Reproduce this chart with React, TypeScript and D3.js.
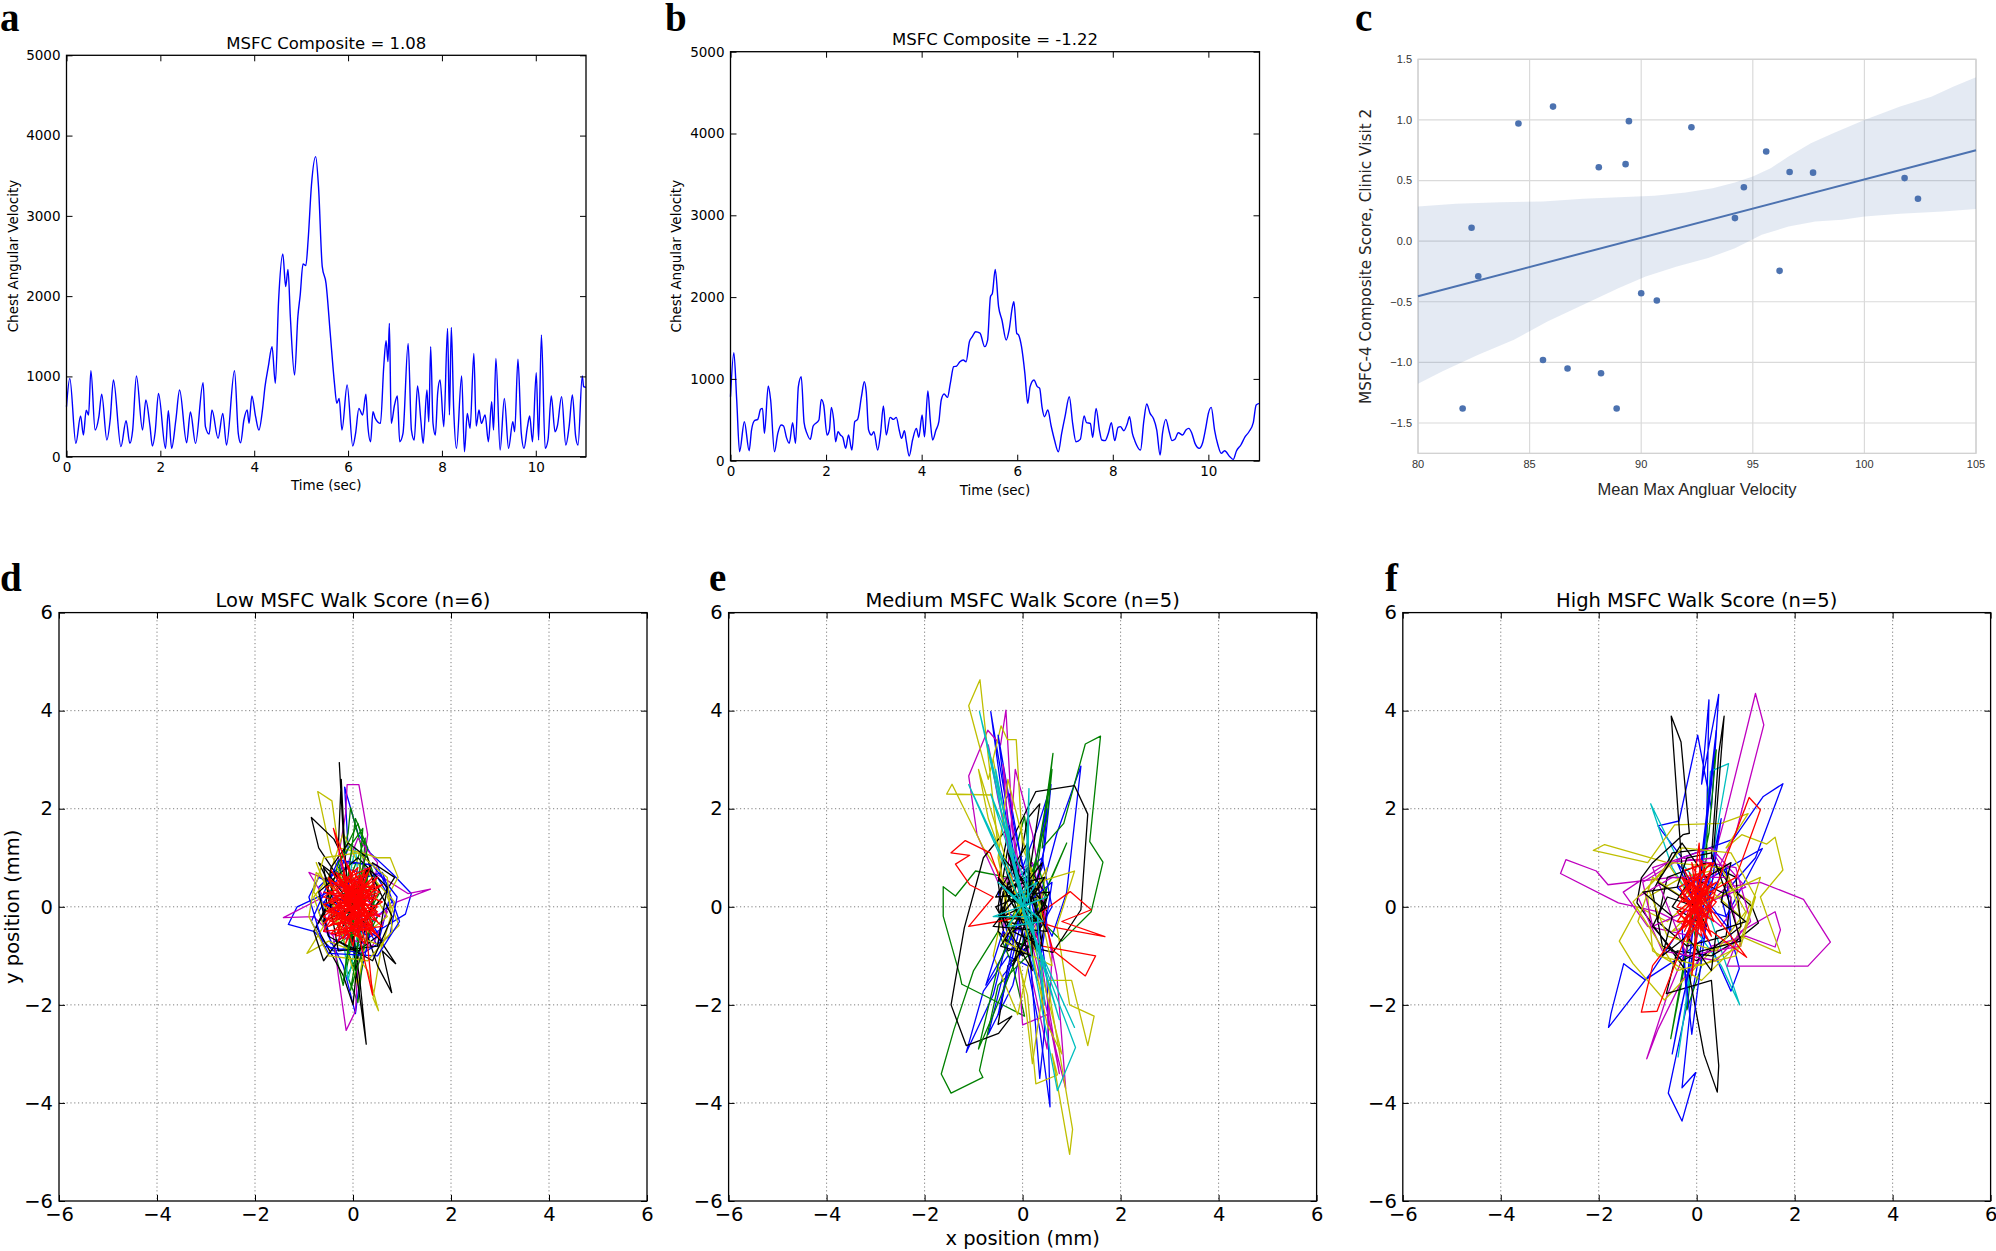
import { useEffect, useRef } from 'react';
import * as d3 from 'd3';

// panel a / b : chest angular velocity traces, [time (sec), value]
const traceA: [number, number][] = [
  [0,623],[0.07,976],[0.2,166],[0.3,507],[0.36,270],[0.42,580],[0.47,519],[0.52,1071],[0.61,332],[0.69,498],
  [0.75,780],[0.86,208],[0.93,457],[1.0,955],[1.16,125],[1.27,448],[1.35,166],[1.41,332],[1.49,1005],[1.62,332],
  [1.69,706],[1.78,374],[1.83,133],[1.89,311],[1.96,789],[2.11,104],[2.17,573],[2.24,104],[2.33,457],[2.41,830],
  [2.56,174],[2.64,556],[2.75,166],[2.91,922],[2.96,374],[3.04,282],[3.1,581],[3.23,228],[3.33,540],[3.41,145],
  [3.58,1071],[3.66,291],[3.71,174],[3.78,457],[3.85,581],[3.89,415],[3.95,756],[4.03,498],[4.1,332],[4.18,602],
  [4.23,872],[4.3,1121],[4.38,1370],[4.45,914],[4.52,1952],[4.61,2525],[4.67,2118],[4.72,2334],[4.77,1744],[4.86,1017],
  [4.93,1744],[4.98,2014],[5.04,2400],[5.1,2380],[5.15,2708],[5.22,3385],[5.31,3738],[5.37,3364],[5.45,2367],[5.53,2160],
  [5.62,1537],[5.71,914],[5.76,664],[5.81,727],[5.87,332],[5.98,893],[6.1,133],[6.16,291],[6.23,602],[6.31,519],
  [6.38,777],[6.42,395],[6.48,187],[6.53,561],[6.58,478],[6.69,415],[6.76,1121],[6.81,1445],[6.85,1184],[6.88,1661],
  [6.92,415],[6.99,644],[7.05,756],[7.1,187],[7.17,291],[7.28,1412],[7.35,332],[7.41,208],[7.48,880],[7.55,457],
  [7.6,166],[7.68,830],[7.72,436],[7.76,1370],[7.81,415],[7.86,270],[7.91,797],[7.96,955],[8.04,374],[8.12,1599],
  [8.16,519],[8.2,1611],[8.25,602],[8.31,104],[8.42,1005],[8.48,62],[8.54,540],[8.6,353],[8.68,1287],[8.73,382],
  [8.79,581],[8.84,415],[8.92,519],[8.99,187],[9.06,685],[9.1,332],[9.15,1225],[9.24,83],[9.33,727],[9.42,104],
  [9.51,436],[9.55,311],[9.62,1213],[9.69,299],[9.75,104],[9.82,365],[9.87,507],[9.93,187],[10.01,1047],[10.06,208],
  [10.12,1516],[10.2,104],[10.26,208],[10.33,756],[10.41,311],[10.46,382],[10.55,748],[10.64,145],[10.71,374],[10.78,768],
  [10.85,249],[10.9,145],[10.99,1005],[11.02,872],[11.07,864],
];

const traceB: [number, number][] = [
  [0,782],[0.07,1320],[0.13,742],[0.19,110],[0.29,477],[0.39,122],[0.44,375],[0.5,489],[0.57,505],[0.63,628],
  [0.67,640],[0.71,334],[0.79,913],[0.84,742],[0.92,110],[0.99,334],[1.06,436],[1.11,424],[1.17,285],[1.23,212],
  [1.3,465],[1.36,212],[1.42,905],[1.48,1027],[1.54,465],[1.6,334],[1.67,261],[1.73,424],[1.85,497],[1.9,750],
  [1.95,681],[2.02,314],[2.07,375],[2.11,652],[2.16,497],[2.2,232],[2.25,354],[2.3,314],[2.35,285],[2.41,151],
  [2.47,314],[2.54,130],[2.6,477],[2.66,505],[2.74,782],[2.8,966],[2.84,844],[2.89,375],[2.95,314],[3.0,354],
  [3.08,130],[3.14,334],[3.2,668],[3.26,314],[3.34,530],[3.41,505],[3.47,530],[3.53,375],[3.58,273],[3.64,367],
  [3.68,232],[3.74,57],[3.81,253],[3.89,395],[3.94,285],[4.01,558],[4.06,293],[4.13,852],[4.18,497],[4.23,253],
  [4.3,375],[4.36,477],[4.41,742],[4.47,815],[4.54,774],[4.6,945],[4.67,1149],[4.73,1157],[4.8,1210],[4.87,1231],
  [4.93,1210],[5.0,1455],[5.06,1516],[5.13,1577],[5.22,1560],[5.32,1394],[5.38,1475],[5.44,2005],[5.48,2046],[5.54,2339],
  [5.61,1883],[5.68,1720],[5.77,1475],[5.83,1597],[5.9,1883],[5.93,1944],[5.99,1557],[6.03,1536],[6.09,1394],[6.16,1068],
  [6.22,701],[6.27,905],[6.35,986],[6.42,905],[6.47,884],[6.52,652],[6.57,538],[6.64,619],[6.71,424],[6.78,253],
  [6.86,110],[6.93,334],[7.0,538],[7.09,782],[7.16,456],[7.23,232],[7.32,261],[7.4,546],[7.45,465],[7.53,456],
  [7.58,285],[7.65,640],[7.72,375],[7.77,253],[7.84,245],[7.91,342],[7.97,465],[8.04,245],[8.11,407],[8.16,416],
  [8.23,367],[8.3,448],[8.35,538],[8.41,334],[8.46,245],[8.58,130],[8.65,489],[8.71,693],[8.78,579],[8.85,517],
  [8.92,375],[8.99,69],[9.04,334],[9.11,505],[9.18,354],[9.24,245],[9.3,261],[9.37,342],[9.46,314],[9.53,375],
  [9.59,395],[9.65,342],[9.72,212],[9.81,151],[9.88,220],[9.95,416],[10.0,579],[10.06,652],[10.13,375],[10.2,192],
  [10.27,90],[10.34,122],[10.45,49],[10.52,16],[10.59,122],[10.68,192],[10.77,293],[10.85,354],[10.94,465],[11.0,681],
  [11.07,701],
];

// panel c : scatter + regression band
const velocity = [82.4,82.7,82.0,84.5,86.05,85.6,86.7,88.1,88.2,88.9,89.3,89.45,90.0,90.7,92.25,94.2,94.6,95.6,96.2,96.65,97.7,101.8,102.4];
const composite = [0.11,-0.29,-1.38,0.97,1.11,-0.98,-1.05,0.61,-1.09,-1.38,0.635,0.99,-0.43,-0.49,0.94,0.19,0.445,0.74,-0.245,0.57,0.565,0.52,0.35];
const bandHiX = [80,81.7,83.7,85.6,87.4,89.0,90.6,92.0,93.2,94.2,95.0,95.8,96.6,97.6,98.6,100,101.6,103,104,105];
const bandHi = [0.286,0.308,0.321,0.327,0.349,0.363,0.374,0.401,0.437,0.483,0.533,0.602,0.698,0.808,0.89,1.0,1.11,1.192,1.275,1.352];
const bandLoX = [80,81.1,82.7,84.3,85.8,87.4,89.0,90.2,91.6,93.0,94.2,95.4,96.6,97.8,99.0,100,101.6,103.5,105];
const bandLo = [-1.176,-1.074,-0.937,-0.813,-0.662,-0.525,-0.387,-0.291,-0.209,-0.14,-0.058,0.052,0.121,0.162,0.176,0.203,0.225,0.245,0.266];

// panels d-f : sway paths (mm), flat x,y lists per colour
const lowB = [0,0,-0.5,0.3,-1.14,0,-1.32,-0.36,-0.8,-0.5,-0.4,-0.9,0.1,-0.8,0.5,-0.5,1.07,-0.15,1.19,0.27,0.8,0.68,0.35,1.1,0.1,1.5,-0.04,1.98,-0.17,2.44,-0.1,1.2,-0.3,0.6,-0.7,-0.1,-0.5,-0.6,-0.2,-1.2,0.05,-2.18,0.15,-1.4,0.4,-0.3,0.8,0.1,0.5,0.6,-0.2,0.8,-0.6,0.5,-0.3,0,0.3,-0.2,0.6,-0.7,0.2,-0.4,-0.45,-0.75,-0.7,0.4,-0.2,0.9,0.5,0.85,0.75,0.2,0.5,-0.8,0,0.1];
const lowB2 = [0,0.3,-0.7,0.6,-0.9,0.2,-0.6,-0.8,0.2,-0.95,0.75,-0.6,0.9,0.2,0.4,0.85,-0.3,0.95,-0.85,-0.3,-0.5,-0.95,0.5,-1.0,0.95,-0.3,0.6,0.7,-0.1,0.5,0.3,-0.6,-0.6,0.1,0,-0.3];
const lowG = [0,0,-0.3,0.7,-0.1,1.5,-0.05,2.02,0.15,1.3,0.3,0.5,0.5,-0.2,0.2,-0.8,-0.12,-1.4,0.1,-1.95,0.2,-1.1,-0.2,-0.3,-0.5,0.1,-0.3,0.9,0.1,1.7,0.3,1.0,0.55,0.3,0.1,-0.5,-0.4,-0.8,-0.2,-1.6,0,-0.6,0.4,-0.1,0.2,0.6,-0.2,0.2,0.25,1.4,0.05,-1.3,-0.35,-0.3,0.3,0.2,0,0];
const lowG2 = [0,0,0.3,1.2,0.05,1.8,-0.1,0.6,0.4,-0.3,0.1,-1.2,-0.05,-1.7,0.15,-0.5,-0.3,0.9,0.2,1.6,0.1,0.2,-0.2,-1.5,0,-0.2,0.35,0.8,-0.1,-0.9];
const lowC = [0,0,-0.2,-0.6,-0.1,-1.5,0.05,-0.8,0.2,0.2,0,0.6,-0.3,0.2,-0.1,-0.3,0.1,-1.1,0.2,-0.4,0.05,1.2,-0.1,0.5,0,0];
const lowM = [0,0.2,-0.3,1.0,-0.15,1.9,-0.12,2.49,0.12,2.49,0.3,1.47,0.2,0.8,0.6,0.6,1.12,0.27,1.58,0.36,0.9,0.1,0.5,-0.2,0.2,0.3,-0.4,0.5,-0.9,0.7,-0.6,0.2,-1.42,-0.22,-0.8,-0.2,-0.4,-0.6,-0.3,-1.4,-0.14,-2.52,0.05,-2.13,0.1,-1.2,0.3,-0.5,0.5,0.9,0.1,1.4,-0.3,0.4,-0.6,-0.5,0.4,-0.8,0.7,-0.1,0,-0.3];
const lowY = [-0.2,0.5,-0.45,1.1,-0.72,2.35,-0.43,2.16,-0.3,1.2,0.2,1.1,0.5,1.0,0.76,1.0,0.92,0.6,0.7,0.2,0.94,-0.38,0.6,-0.7,0.41,-1.86,0.52,-2.12,0.3,-1.3,0,-0.9,-0.5,-0.7,-0.94,-0.95,-0.6,-0.4,-0.8,0.2,-0.5,0.6,-0.2,1.5,0.1,0.9,0.4,0.3,0.7,-0.2,0.2,-0.6,-0.3,-0.2,-0.75,0.9,-0.4,0,0.1,-1.6,0.35,-0.2,0,0.3];
const lowY2 = [0,0,-0.75,0.7,-0.9,-0.2,-0.5,-1.0,0.3,-1.1,0.8,-0.5,0.7,0.6,0.1,1.1,-0.6,1.0,-0.8,0.3,-0.2,-0.5,0.6,-0.8,0.85,0.1,0.3,0.7,-0.4,0.4];
const lowK = [-0.28,2.95,-0.2,1.5,-0.1,0.3,0.05,-1.2,0.27,-2.8,0.15,-1.6,0,-0.5,-0.15,0.8,-0.24,2.6,-0.3,1.2,-0.39,1.38,-0.85,1.82,-0.7,1.2,-0.3,0.6,-0.7,0.9,-0.4,0.3,-0.8,-0.5,-0.6,-1.1,-0.3,-0.7,0.1,-0.9,0.5,-0.6,0.87,-1.16,0.6,-0.9,0.79,-1.75,0.5,-1.2,0.2,-0.3,0.6,0.2,0.85,0.6,0.4,0.9,0.1,0.4,-0.5,0,-0.75,-0.4,-0.2,-1.4,0,-2.0,0.1,-1.0,0.45,0.3,0.3,1.0,-0.1,1.3,-0.45,0.8,-0.6,-0.3,0,0];
const lowK2 = [0,0,-0.6,0.8,-0.3,-0.9,0.5,-0.8,0.7,0.4,0.1,1.0,-0.7,0.3,-0.5,-0.6,0.4,-1.1,0.8,-0.2,0.3,0.8,-0.2,-0.4];
const lowR = [0,0,0.4,0.3,-0.3,-0.4,0.2,0.6,-0.5,0.1,0.5,-0.3,-0.2,0.7,0.1,-0.6,-0.6,-0.2,0.3,0.5,-0.1,-0.3,0.6,0.1,-0.4,0.5,0.2,-0.5,-0.3,0.3,0.4,-0.6,-0.4,1.6,-0.1,0.4,0.5,0.4,-0.5,-0.4,0.3,-0.1,-0.2,0.5,0.1,0.8,-0.3,-0.7,0.5,0,-0.6,0.3,0.2,0.2,0.4,-1.8,0.1,-0.5,-0.4,-0.1,0.3,0.7,-0.2,-0.5,0.6,-0.4,-0.5,0.6,0,-0.8,0.2,0.4,-0.3,0,0.5,0.6,-0.1,-0.2,0.3,-0.4,-0.6,-0.5,0.1,0.6,0.4,0.1,-0.2,0.2,0.55,-0.65,-0.45,0.75,0.15,-0.15,-0.55,-0.1,0.35,0.35,-0.15,-0.75,0.25,0.75,-0.35,-0.25,0.45,-0.15,-0.25,0.55,0.05,0.05,0.6,0.45,-0.6,0.05,0.1,-0.4,-0.3,0.65,0.4,-0.45,-0.45,-0.55,0.2,0.1,0,0];
const lowR2 = [0.1,0.2,-0.45,-0.3,0.5,0.25,-0.2,-0.65,0.35,0.8,-0.55,0.4,0.45,-0.55,-0.1,0.85,0.25,-0.75,-0.5,-0.05,0.55,0.3,-0.35,0.7,0.15,-0.3,-0.25,-0.15,0.4,0.6,-0.6,-0.35,0.05,0.5,0.3,-0.25,-0.4,0.2,0.2,-0.7,-0.15,0.3,0.5,-0.1,-0.3,-0.55,0,0.75,0.35,0.15,-0.5,0.55,0.25,-0.45,-0.05,-0.05,0.45,0.45,-0.45,0.15,0.1,-0.55,0.3,0.3,-0.2,0.6,0.4,-0.35,-0.35,-0.6,0,0.3,0.55,-0.2,-0.6,0.2,0.15,0.65,0.1,-0.15];

const medB = [0,0,-0.2,1.0,-0.45,2.5,-0.65,3.98,-0.35,2.2,-0.27,2.3,0,0.8,0.3,1.6,0.58,2.49,0.45,1.2,0.2,0.2,0.6,-0.6,0.9,0.3,1.19,2.87,0.7,1.5,0.3,0,0.5,-1.5,0.56,-4.08,0.35,-2.5,0.1,-1.2,-0.3,-1.0,-0.8,-1.72,-1.15,-2.97,-0.6,-1.8,-0.3,-0.6,-0.5,0.3,-0.1,0.6,0.4,1.0,0.6,0,0.2,-0.7,-0.4,-1.4,-0.7,-2.6,-0.2,-1.6,0.1,-0.3,-0.4,-0.1,0,0.3];
const medB2 = [0,0,-0.3,1.8,-0.5,3.5,-0.15,1.5,0.3,-0.4,0.45,-2.5,0.35,-3.5,0.15,-1.0,-0.4,-0.5,-0.75,-1.6,-0.35,-0.9,0.4,0.8,0.5,2.0,0.2,0.6,-0.5,-2.2,-0.1,-0.3,0.3,-1.5,0.6,0.5,0,0];
const medG = [0,0,0.3,0.8,0.62,3.13,0.4,1.2,0.84,1.7,1.28,3.32,1.59,3.48,1.37,1.33,1.64,0.91,1.4,-0.1,0.8,-0.7,0.3,-0.2,0.04,1.84,-0.3,0.6,-0.96,0.73,-1.37,0.22,-1.62,0.41,-1.62,-0.19,-1.28,-1.4,-1.24,-1.58,-0.6,-1.9,0.04,-2.23,-0.2,-1.2,-0.5,-0.5,-1.0,-1.3,-1.4,-2.5,-1.66,-3.41,-1.46,-3.8,-0.81,-3.48,-0.88,-3.34,-0.5,-1.6,0.2,-0.9,0.5,0.4,0.9,1.3,0.6,0.6,0.1,-0.4,-0.3,0.2,0,0];
const medG2 = [0,0,0.5,1.8,0.6,2.8,0.2,0.5,-0.5,-1.2,-0.9,-2.9,-0.6,-2.2,0.1,-0.5,0.5,0.2,0.3,0.9,-0.3,-0.4,0,0];
const medM = [0,0,-0.2,1.5,-0.34,4.01,-0.45,3.3,-0.71,3.6,-1.1,2.67,-0.93,1.47,-0.5,0.5,0.2,0.9,0.4,0.1,0.7,-1.4,0.88,-3.71,0.5,-2.2,0,-2.41,-0.1,-1.0,0.3,-0.3,-0.4,-0.6,-0.15,2.8,0.2,1.5,0.6,-1.0,0.5,-2.9,0.2,-1.5,0,0];
const medM2 = [0,0,-0.5,2.2,-0.7,3.3,-0.3,1.2,0.3,-1.2,0.6,-2.6,0.75,-3.4,0.3,-0.6,-0.2,0.4,-0.4,2.9,0.1,-0.3,0,0];
const medY = [0,0,-0.5,1.2,-0.87,4.63,-1.1,4.1,-0.7,2.6,-0.44,3.69,-0.31,3.41,-0.13,3.41,0,1.2,0.3,0.5,1.06,0.73,0.7,-0.4,0.96,-2.0,1.46,-2.23,1.33,-2.83,1.0,-1.5,0.5,-1.5,1.02,-4.54,0.96,-5.05,0.6,-3.0,0.71,-3.43,0.27,-3.61,0.1,-1.8,-0.3,-0.4,-0.62,2.28,-1.55,2.3,-1.44,2.5,-0.8,1.2,-0.3,0.4,-0.6,-1.0,-0.1,-2.2,0.2,-0.8,0.5,0.8,-0.2,-0.5,0,0];
const medY2 = [0,0,-0.6,3.0,-0.4,2.0,0.5,-2.4,0.8,-3.0,0.3,-1.0,-0.7,1.8,-0.9,2.8,-0.2,0.5,0.4,-1.8,0.2,-3.2,0,-1.5,-0.5,1.0,-0.3,2.6,0.3,0.2,0.6,-1.2,-0.4,-0.7,0.2,0.7,0,0];
const medK = [0,0,-0.4,-0.2,-0.5,0.5,-0.27,1.65,-0.8,1.0,-1.19,-0.43,-1.46,-2.0,-1.15,-2.83,-0.49,-2.58,-0.22,-2.23,-0.5,-2.4,-0.3,-1.2,0.1,-0.8,0.62,-0.93,1.19,-0.06,1.33,1.89,1.06,2.47,0.27,2.35,-0.3,1.2,-0.5,0,-0.3,-0.9,0.3,-0.6,0.5,0.2,0.2,0.7,-0.4,0.3,-0.5,-0.5,0,-1.0,0.45,-0.3,0.3,0.5,-0.1,0.9,-0.45,0.1,-0.2,-0.7,0.35,-0.9,0.5,-0.1,0.1,0.6,-0.3,0.5,-0.4,-0.3,0.2,-0.4,0.3,0.2,-0.2,0.1,0.1,1.8,0.35,2.1,0.1,0.4,0,0];
const medK2 = [0,0,-0.5,0.6,0.3,-0.9,-0.3,1.1,0.5,-0.5,-0.6,-0.4,0.4,0.9,-0.2,-1.2,0.55,0.3,-0.55,0.2,0.1,1.3,0.2,-1.0,-0.45,-0.8,0.45,0.6,-0.3,0.4,0.3,-0.3,-0.5,-0.2,0.1,0.8,0.4,-0.8,-0.2,-0.5,0.5,0,-0.4,1.0,0.2,-1.3,-0.55,0,0.35,0.4,0,0];
const medR = [0,0,-0.4,0.4,-0.66,1.1,-1.17,1.35,-1.46,1.1,-1.08,1.05,-1.37,0.87,-1.08,0.45,-0.6,0.2,-1.1,-0.4,-0.5,-0.3,0,-0.2,0.71,-0.43,1.68,-0.61,0.8,-0.3,1.4,-0.06,0.97,0.31,0.4,-0.1,0.62,-0.89,1.28,-1.41,1.49,-1.0,0.4,-0.8,0.1,-0.3,-0.2,0.3,0.2,0.2,-0.1,-0.2,0.1,0.15,0,0];
const medC = [0,0,-0.88,3.98,-0.3,1.6,0,0,-1.1,2.49,-0.4,1.0,0.1,0.1,0.13,2.41,0.05,0.3,0,-0.1,1.06,-2.46,0.4,-1.0,0,0,0.71,-3.75,1.08,-2.87,0.3,-0.8,0,0,-0.5,0.5,0.4,-0.3,-0.3,-0.4,0.3,0.5,-0.2,0.2,0.2,-0.2,-0.6,-0.2,0.5,0.2,0,0];
const medC2 = [0,0,-0.55,2.8,-0.45,2.0,0.2,-0.5,0.75,-2.3,0.55,-1.6,-0.2,0.9,-0.65,2.3,0.1,0.4,0.45,-2.0,0.3,-0.2,-0.3,0.3,0,0];

const highB = [0,0,0.2,1.5,0.25,4.22,0.1,2.5,0.45,4.33,0.3,2.0,0.02,3.5,-0.36,1.75,-0.79,1.65,-0.3,1.0,0.75,1.38,1.36,2.25,1.76,2.51,1.2,1.0,0.5,0.2,0.87,-1.26,0.7,-1.72,0.2,-0.6,-0.3,-1.0,-1.05,-1.49,-1.49,-1.16,-1.75,-2.18,-1.8,-2.46,-0.9,-1.3,-0.3,-0.4,-0.2,-2.0,-0.58,-3.8,-0.3,-4.37,-0.02,-3.38,-0.3,-3.69,-0.1,-1.8,0.2,-0.2,-0.4,0.4,0.3,0.6,1.34,1.19,0.6,-0.2,0,0];
const highB2 = [0,0,0.3,2.5,0.4,3.6,0.1,1.0,-0.2,-1.5,-0.5,-3.0,-0.35,-2.2,0.2,0.3,0.5,1.8,0.2,-0.3,-0.1,-2.6,-0.3,-0.7,0.6,0.8,0.7,-0.5,-0.4,0.9,0,0];
const highG = [0,0,0.2,1.0,0.23,2.3,0.4,3.2,0.25,1.5,0,0.3,-0.2,-0.8,-0.53,-2.69,-0.3,-1.5,-0.1,-0.3,0.1,-1.2,-0.2,-2.1,0.1,0.5,0,0];
const highC = [0,0,-0.5,0.8,-0.94,2.1,-0.4,1.0,0.1,0.4,0.28,2.76,0.65,2.92,0.4,1.5,0.2,0,0.88,-2.0,0.5,-1.2,0,-0.5,-0.38,-3.06,-0.2,-1.8,-0.1,-0.5,0,0];
const highM = [0,0,0.3,0.8,0.58,1.84,1.2,4.35,1.37,3.71,0.8,1.5,0.3,0.5,-0.5,0.6,-1.81,0.45,-2.05,0.73,-2.67,0.96,-2.78,0.68,-1.6,0.08,-0.8,-0.1,-0.2,-0.4,0.6,0.4,1.3,0.5,2.18,0.15,2.73,-0.72,2.27,-1.21,0.62,-1.21,0.9,-0.5,1.6,-0.1,1.71,-0.47,1.6,-0.82,1.0,-0.6,0.3,-0.8,-0.3,-1.5,-0.79,-2.5,-1.02,-3.1,-0.6,-1.8,-0.1,-0.6,-1.0,-0.4,-1.5,0.3,-0.6,0.9,0.4,1.0,0.9,0.2,0.5,-0.4,0,0];
const highM2 = [0,0,-0.9,-0.4,-1.1,0.5,-0.3,1.0,0.8,0.8,1.1,-0.3,0.4,-1.1,-0.7,-0.9,-1.2,0.2,-0.5,0.6,0.6,0.6,0.9,-0.8,-0.2,-1.0,-0.9,0.8,0.3,1.2,1.0,0.4,0,0];
const highY = [0,0,-0.6,0.9,-1.88,1.27,-2.11,1.15,-1.0,0.9,-0.45,1.67,0.5,1.7,1.05,1.9,0.6,1.2,0.92,1.47,1.43,1.28,1.6,1.42,1.76,0.75,1.3,0.2,1.71,-0.95,0.9,-0.6,0.3,-0.9,-0.66,-1.9,-1.3,-1.16,-1.58,-0.7,-1.2,0,-0.6,-0.3,0.2,0.4,0.9,-0.2,0.6,0.8,-0.3,0.6,-1.0,0.2,-0.9,-0.9,0.1,-1.5,0.7,-0.9,1.1,0.1,0.5,0.5,-0.5,-0.5,0.3,-0.2,-0.2,0.3,0,0];
const highY2 = [0,0,-0.9,0.6,-1.2,-0.3,-0.8,-1.0,0.1,-1.2,0.9,-0.8,1.2,0.2,0.7,1.1,-0.3,1.2,-1.0,0.4,-0.6,-0.6,0.4,-0.9,1.0,-0.1,0.5,0.8,-0.5,0.9,-1.3,0.1,-0.4,-1.3,0.8,-1.0,1.3,0.6,0,0];
const highK = [0,0,-0.3,0.8,-0.52,3.89,-0.32,3.36,-0.15,1.5,-0.28,1.47,-0.9,0.9,-1.13,0.59,-1.22,0.08,-0.8,-0.5,-0.15,-1.4,0.15,-3.01,0.42,-3.78,0.45,-3.24,0.3,-1.5,-0.62,-1.77,-0.4,-0.9,0.3,-1.0,0.8,-0.7,1.26,-0.33,1.13,0,0.7,0.4,0.3,1.0,0.45,3.13,0.56,3.89,0.35,1.2,-0.5,1.1,-0.9,0.3,-0.7,-0.8,0,-1.1,0.9,-0.4,0.8,0.6,0.2,0.9,-0.6,0.6,-0.8,-0.3,-0.2,-0.8,0.6,-0.6,0.7,0.2,-0.1,0.6,-0.5,0,0.2,-0.4,0,0];
const highK2 = [0,0,-0.8,0.5,-0.3,1.3,0.2,0.6,0.7,0.9,0.5,0.1,1.0,-0.3,0.4,-0.5,0.3,-1.3,-0.2,-0.6,-0.7,-1.0,-0.5,-0.2,-1.1,0.3,-0.4,0.4,-0.2,1.0,0.3,1.1,0.6,0.3,0.9,-0.7,0.1,-0.9,-0.3,-1.1,-0.9,-0.4,-0.6,0.2,0,0];
const highR = [0,0,0.3,0.5,-0.3,-0.4,0.2,0.8,-0.35,0.2,0.35,-0.3,-0.1,0.9,0.1,-0.6,-0.4,-0.1,0.25,0.4,-0.2,-0.6,0.4,0.1,-0.3,0.6,0.15,-0.4,0.6,1.0,1.07,2.23,1.3,1.98,0.8,0.6,0.1,0.2,-0.3,-0.8,-0.81,-2.13,-1.13,-2.15,-0.9,-1.2,-0.2,-0.3,0.3,-0.5,1.02,-1.03,0.4,-0.2,-0.1,0.5,0.3,0.7,-0.35,-0.5,0.2,0,-0.2,0.4,0.35,0.3,-0.15,-0.2,0.05,1.3,0.1,0.1,-0.1,-1.4,0,-0.3,0.25,-0.7,-0.3,0.3,0.3,0.9,-0.25,0.75,0.2,-0.2,-0.4,0,0,0.6,0.15,-0.55,-0.1,0.15,0,0];
const highR2 = [0,0,0.25,0.6,-0.25,-0.5,0.35,0.9,-0.35,0.4,0.3,-0.6,-0.15,0.7,0.2,-0.3,-0.4,-0.3,0.15,0.5,-0.3,0.1,0.35,0.2,-0.2,-0.7,0.1,0.95,0.3,-0.15,-0.25,0.55,0.2,-0.65,-0.1,0.25,0.4,0.5,-0.35,-0.15,0.05,-0.45,0,0];

const mpl = { b: '#0000ff', g: '#008000', r: '#ff0000', c: '#00bfbf', m: '#bf00bf', y: '#bfbf00', k: '#000000' };

const swayPanels = [
  { title: 'Low MSFC Walk Score (n=6)', box: { l: 59, r: 647 }, letter: 'd', lx: 0,
    paths: [[lowB, mpl.b], [lowG, mpl.g], [lowC, mpl.c], [lowM, mpl.m], [lowY, mpl.y], [lowK, mpl.k],
      [lowB2, mpl.b], [lowY2, mpl.y], [lowK2, mpl.k], [lowG2, mpl.g], [lowR, mpl.r], [lowR2, mpl.r]] },
  { title: 'Medium MSFC Walk Score (n=5)', box: { l: 728.6, r: 1316.6 }, letter: 'e', lx: 709,
    paths: [[medB, mpl.b], [medG, mpl.g], [medM, mpl.m], [medY, mpl.y], [medK, mpl.k], [medR, mpl.r],
      [medB2, mpl.b], [medG2, mpl.g], [medM2, mpl.m], [medY2, mpl.y], [medK2, mpl.k], [medC, mpl.c], [medC2, mpl.c]] },
  { title: 'High MSFC Walk Score (n=5)', box: { l: 1402.8, r: 1990.6 }, letter: 'f', lx: 1385,
    paths: [[highB, mpl.b], [highG, mpl.g], [highC, mpl.c], [highM, mpl.m], [highY, mpl.y], [highK, mpl.k],
      [highB2, mpl.b], [highM2, mpl.m], [highY2, mpl.y], [highK2, mpl.k], [highR, mpl.r], [highR2, mpl.r]] },
];

const SANS = 'DejaVu Sans';

const pairs = (flat: number[]) => d3.range(0, flat.length, 2).map(i => [flat[i], flat[i + 1]] as [number, number]);

// matplotlib classic style frame: inward ticks on all four sides
function mplFrame(g: any, x: any, y: any, xTicks: number[], yTicks: number[], fs: number, fmtX: any, fmtY: any) {
  const [x0, x1] = x.range();
  const [y0, y1] = y.range();
  const tl = 6;
  const style = (sel: any) => {
    sel.select('.domain').remove();
    sel.attr('font-family', SANS).attr('font-size', fs);
    sel.selectAll('line').attr('stroke', '#000').attr('stroke-width', 1);
    sel.selectAll('text').attr('fill', '#000');
  };
  g.append('g').attr('transform', `translate(0,${y0})`)
    .call(d3.axisBottom(x).tickValues(xTicks).tickSizeInner(-tl).tickSizeOuter(0).tickPadding(6).tickFormat(fmtX)).call(style);
  g.append('g').attr('transform', `translate(0,${y1})`)
    .call(d3.axisTop(x).tickValues(xTicks).tickSizeInner(-tl).tickSizeOuter(0).tickFormat(() => '')).call(style);
  g.append('g').attr('transform', `translate(${x0},0)`)
    .call(d3.axisLeft(y).tickValues(yTicks).tickSizeInner(-tl).tickSizeOuter(0).tickPadding(6).tickFormat(fmtY)).call(style);
  g.append('g').attr('transform', `translate(${x1},0)`)
    .call(d3.axisRight(y).tickValues(yTicks).tickSizeInner(-tl).tickSizeOuter(0).tickFormat(() => '')).call(style);
  g.append('rect').attr('x', x0).attr('y', y1).attr('width', x1 - x0).attr('height', y0 - y1)
    .attr('fill', 'none').attr('stroke', '#000').attr('stroke-width', 1.3);
}

function letter(svg: any, t: string, x: number, y: number) {
  svg.append('text').attr('x', x).attr('y', y).text(t)
    .attr('font-family', 'Liberation Serif').attr('font-weight', 'bold').attr('font-size', 39);
}

function label(svg: any, t: string, x: number, y: number, fs: number, rotate = false, family = SANS, fill = '#000') {
  const el = svg.append('text').text(t).attr('text-anchor', 'middle')
    .attr('font-family', family).attr('font-size', fs).attr('fill', fill);
  if (rotate) el.attr('transform', `translate(${x},${y}) rotate(-90)`).attr('dy', '0.35em');
  else el.attr('x', x).attr('y', y);
}

export default function App() {
  const ref = useRef<SVGSVGElement>(null);

  useEffect(() => {
    const svg = d3.select(ref.current);
    svg.selectAll('*').remove();
    svg.append('rect').attr('width', 1996).attr('height', 1251).attr('fill', '#fff');

    // ---- a, b: velocity traces
    const traces = [
      { data: traceA, box: { l: 66.5, r: 586, t: 55.3, b: 456.7 }, title: 'MSFC Composite = 1.08', letter: 'a', lx: 0, ly: 31, ty: 49, xly: 490, yl: 13 },
      { data: traceB, box: { l: 730.5, r: 1259.5, t: 51.7, b: 460.7 }, title: 'MSFC Composite = -1.22', letter: 'b', lx: 665, ly: 31, ty: 45, xly: 495, yl: 676 },
    ];
    traces.forEach(p => {
      const x = d3.scaleLinear().domain([0, 11.07]).range([p.box.l, p.box.r]);
      const y = d3.scaleLinear().domain([0, 5000]).range([p.box.b, p.box.t]);
      const g = svg.append('g');
      g.append('path').datum(p.data)
        .attr('fill', 'none').attr('stroke', '#0000ff').attr('stroke-width', 1.4)
        .attr('d', d3.line<[number, number]>().x(d => x(d[0])).y(d => y(d[1])).curve(d3.curveMonotoneX));
      mplFrame(g, x, y, [0, 2, 4, 6, 8, 10], [0, 1000, 2000, 3000, 4000, 5000], 13.5, d3.format('d'), d3.format('d'));
      const cx = (p.box.l + p.box.r) / 2;
      label(svg, p.title, cx, p.ty, 16.5);
      label(svg, 'Time (sec)', cx, p.xly, 13.5);
      label(svg, 'Chest Angular Velocity', p.yl, (p.box.t + p.box.b) / 2, 13.5, true);
      letter(svg, p.letter, p.lx, p.ly);
    });

    // ---- c: regression scatter (seaborn whitegrid look)
    {
      const box = { l: 1418, r: 1976, t: 59.3, b: 453.3 };
      const x = d3.scaleLinear().domain([80, 105]).range([box.l, box.r]);
      const y = d3.scaleLinear().domain([-1.75, 1.5]).range([box.b, box.t]);
      const g = svg.append('g');
      const xt = [80, 85, 90, 95, 100, 105];
      const yt = [-1.5, -1.0, -0.5, 0, 0.5, 1.0, 1.5];
      g.selectAll('.gx').data(xt).join('line')
        .attr('x1', d => x(d)).attr('x2', d => x(d)).attr('y1', box.t).attr('y2', box.b)
        .attr('stroke', '#dadada').attr('stroke-width', 1.2);
      g.selectAll('.gy').data(yt).join('line')
        .attr('y1', d => y(d)).attr('y2', d => y(d)).attr('x1', box.l).attr('x2', box.r)
        .attr('stroke', '#dadada').attr('stroke-width', 1.2);
      g.append('rect').attr('x', box.l).attr('y', box.t).attr('width', box.r - box.l).attr('height', box.b - box.t)
        .attr('fill', 'none').attr('stroke', '#d0d0d0').attr('stroke-width', 1.3);

      const hi = bandHiX.map((v, i) => [v, bandHi[i]] as [number, number]);
      const lo = bandLoX.map((v, i) => [v, bandLo[i]] as [number, number]).reverse();
      g.append('path').datum([...hi, ...lo])
        .attr('fill', '#4c72b0').attr('fill-opacity', 0.15)
        .attr('d', d3.line<[number, number]>().x(d => x(d[0])).y(d => y(d[1])).curve(d3.curveLinearClosed));

      const mx = d3.mean(velocity)!, my = d3.mean(composite)!;
      const sxy = d3.sum(velocity, (v, i) => (v - mx) * (composite[i] - my));
      const sxx = d3.sum(velocity, v => (v - mx) * (v - mx));
      const slope = sxy / sxx, icpt = my - slope * mx;
      g.append('line').attr('x1', x(80)).attr('x2', x(105)).attr('y1', y(icpt + slope * 80)).attr('y2', y(icpt + slope * 105))
        .attr('stroke', '#4c72b0').attr('stroke-width', 2);

      g.selectAll('.pt').data(velocity).join('circle')
        .attr('cx', d => x(d)).attr('cy', (d, i) => y(composite[i])).attr('r', 3.3).attr('fill', '#4c72b0');

      g.selectAll('.xl').data(xt).join('text')
        .attr('x', d => x(d)).attr('y', box.b + 14.5).attr('text-anchor', 'middle')
        .attr('font-family', 'Liberation Sans').attr('font-size', 11).attr('fill', '#333').text(d => d3.format('d')(d));
      g.selectAll('.yl').data(yt).join('text')
        .attr('x', box.l - 6).attr('y', d => y(d)).attr('dy', '0.35em').attr('text-anchor', 'end')
        .attr('font-family', 'Liberation Sans').attr('font-size', 11).attr('fill', '#333').text(d => d3.format('.1f')(d));

      label(svg, 'Mean Max Angluar Velocity', (box.l + box.r) / 2, 495, 16.5, false, 'Liberation Sans', '#262626');
      label(svg, 'MSFC-4 Composite Score, Clinic Visit 2', 1366, (box.t + box.b) / 2, 15.3, true, SANS, '#262626');
      letter(svg, 'c', 1355, 31);
    }

    // ---- d, e, f: sway paths
    swayPanels.forEach((p, idx) => {
      const box = { ...p.box, t: 612.6, b: 1201 };
      const x = d3.scaleLinear().domain([-6, 6]).range([box.l, box.r]);
      const y = d3.scaleLinear().domain([-6, 6]).range([box.b, box.t]);
      const g = svg.append('g');
      const grid = [-4, -2, 0, 2, 4];
      g.selectAll('.gx').data(grid).join('line')
        .attr('x1', d => x(d)).attr('x2', d => x(d)).attr('y1', box.t).attr('y2', box.b)
        .attr('stroke', '#7f7f7f').attr('stroke-width', 1).attr('stroke-dasharray', '1.2,2.6');
      g.selectAll('.gy').data(grid).join('line')
        .attr('y1', d => y(d)).attr('y2', d => y(d)).attr('x1', box.l).attr('x2', box.r)
        .attr('stroke', '#7f7f7f').attr('stroke-width', 1).attr('stroke-dasharray', '1.2,2.6');
      const line = d3.line<[number, number]>().x(d => x(d[0])).y(d => y(d[1]));
      p.paths.forEach(([flat, col]) => {
        g.append('path').datum(pairs(flat as number[]))
          .attr('fill', 'none').attr('stroke', col as string).attr('stroke-width', 1.3)
          .attr('stroke-linejoin', 'round').attr('d', line);
      });
      mplFrame(g, x, y, [-6, -4, -2, 0, 2, 4, 6], [-6, -4, -2, 0, 2, 4, 6], 19.5, d3.format('d'), d3.format('d'));
      label(svg, p.title, (box.l + box.r) / 2, 607, 19.5);
      letter(svg, p.letter, p.lx, 591);
      if (idx === 0) label(svg, 'y position (mm)', 12, (box.t + box.b) / 2, 19.5, true);
      if (idx === 1) label(svg, 'x position (mm)', (box.l + box.r) / 2, 1245, 19.5);
    });
  }, []);

  return (
    <div>
      <style>{`body{margin:0;background:#fff}`}</style>
      <svg ref={ref} width={1996} height={1251} style={{ display: 'block' }} />
    </div>
  );
}
